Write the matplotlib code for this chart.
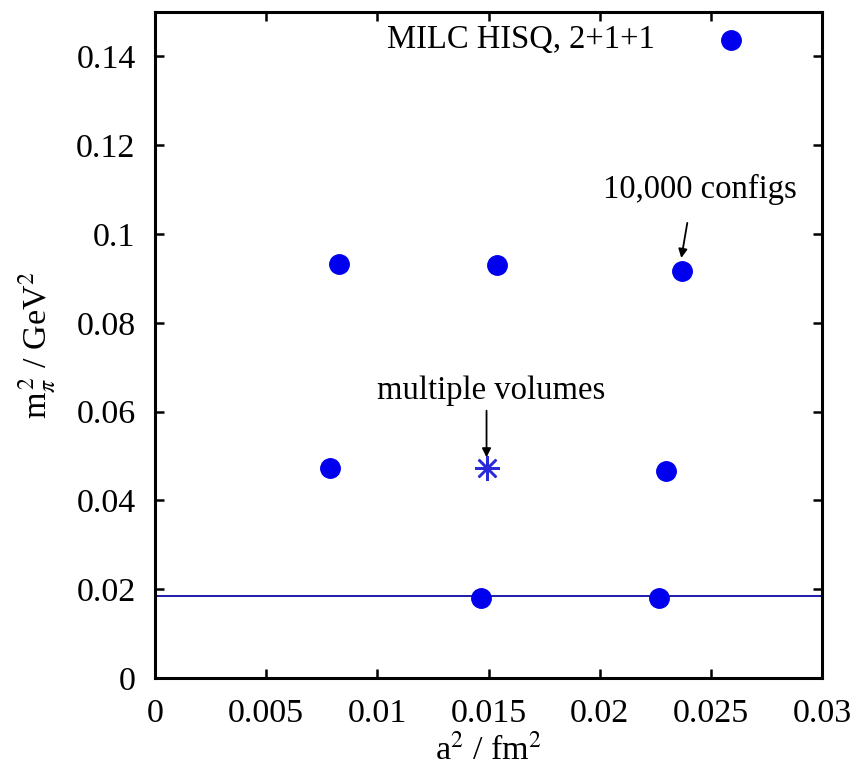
import matplotlib
matplotlib.use("Agg")
import matplotlib.pyplot as plt

plt.rcParams['font.family'] = ['Liberation Serif', 'DejaVu Serif']
plt.rcParams['mathtext.fontset'] = 'stix'

# data
a2_circles = [0.0259, 0.00826, 0.01536, 0.02371, 0.00786, 0.0230, 0.01464, 0.02268]
mpi2_circles = [0.1437, 0.0933, 0.0930, 0.0917, 0.0472, 0.0467, 0.0180, 0.0180]
a2_star = [0.01491]
mpi2_star = [0.0472]
physical_mpi2 = 0.0184
xticks = [0, 0.005, 0.01, 0.015, 0.02, 0.025, 0.03]
xticklabels = ['0', '0.005', '0.01', '0.015', '0.02', '0.025', '0.03']
yticks = [0, 0.02, 0.04, 0.06, 0.08, 0.1, 0.12, 0.14]
yticklabels = ['0', '0.02', '0.04', '0.06', '0.08', '0.1', '0.12', '0.14']

fig = plt.figure(figsize=(8.57, 7.78), dpi=100)
ax = fig.add_axes([0.1809, 0.1285, 0.9592 - 0.1809, 0.9846 - 0.1285])

ax.axhline(physical_mpi2, color='#1c1ca8', lw=1.4, zorder=1)
ax.plot(a2_circles, mpi2_circles, 'o', color='#0000ee', markersize=14, zorder=3)
ax.plot(a2_star, mpi2_star, linestyle='none', marker=(8, 2, 0), color='#2a2ad8',
        markersize=18, markeredgewidth=1.8, zorder=3)

ax.set_xlim(0, 0.03)
ax.set_ylim(0, 0.15)
ax.set_xticks(xticks)
ax.set_xticklabels(xticklabels)
ax.set_yticks(yticks)
ax.set_yticklabels(yticklabels)
ax.tick_params(direction='in', length=6.5, width=1.8, labelsize=24.5, top=True, right=True)
ax.tick_params(axis='x', pad=15)
ax.tick_params(axis='y', pad=14)
for s in ax.spines.values():
    s.set_linewidth(2.2)

ax.set_xlabel(r'a$^2$ / fm$^2$', fontsize=24.5, labelpad=4)
ax.set_ylabel(r'm$_\pi^{\,2}$ / GeV$^2$', fontsize=24.5, labelpad=14)

ax.text(0.01644, 0.1437, 'MILC HISQ, 2+1+1', fontsize=23.5, ha='center', va='center')
ax.text(0.0245, 0.1100, '10,000 configs', fontsize=23.5, ha='center', va='center')
ax.annotate('', xy=(0.02367, 0.0946), xytext=(0.02394, 0.1025),
            arrowprops=dict(arrowstyle='-|>', color='black', lw=1.3,
                            shrinkA=0, shrinkB=0, mutation_scale=13))
ax.text(0.01513, 0.0648, 'multiple volumes', fontsize=23.5, ha='center', va='center')
ax.annotate('', xy=(0.01491, 0.0497), xytext=(0.01491, 0.0602),
            arrowprops=dict(arrowstyle='-|>', color='black', lw=1.3,
                            shrinkA=0, shrinkB=0, mutation_scale=13))

fig.savefig('out.png', dpi=100)
